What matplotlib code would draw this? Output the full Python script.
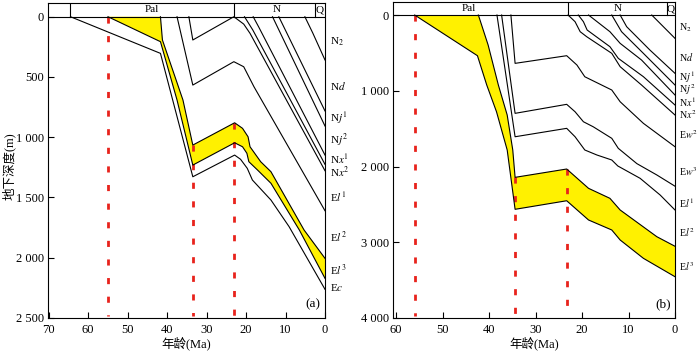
import numpy as np
import matplotlib.pyplot as plt
from matplotlib.transforms import blended_transform_factory

plt.rcParams['font.family'] = ['Liberation Serif', 'Noto Sans CJK SC']
plt.rcParams['mathtext.fontset'] = 'stix'

YELLOW = '#fff100'
RED = '#e8231c'

# ---------------- panel (a): burial curves, age (Ma) / depth (m) ----------------
a_n2_base_age = [5.1, 3.1, 0]
a_n2_base_dep = [0, 135, 359]
a_nd_base_age = [11.7, 0]
a_nd_base_dep = [0, 782]
a_nj1_base_age = [13.3, 0]
a_nj1_base_dep = [0, 907]
a_nj2_base_age = [18.2, 16.8, 0]
a_nj2_base_dep = [0, 85, 1148]
a_nx1_base_age = [20.4, 18.3, 0]
a_nx1_base_dep = [0, 110, 1225]
a_nx2_base_age = [34.5, 33.5, 23.1, 20.6, 19.0, 0]
a_nx2_base_dep = [0, 193, 0, 61, 138, 1278]
a_el1_base_age = [37.5, 33.5, 23.1, 20.6, 19.3, 18.0, 0]
a_el1_base_dep = [0, 567, 373, 415, 498, 581, 1610]
a_el2_base_age = [41.7, 41.2, 36.0, 33.5, 22.9, 20.9, 19.5, 19.0, 16.3, 13.7, 5.3, 0]
a_el2_base_dep = [0, 193, 691, 1065, 880, 926, 996, 1079, 1203, 1286, 1770, 2005]
a_el3_base_age = [55.0, 41.7, 37.5, 33.5, 22.9, 20.9, 19.8, 19.3, 17.1, 13.7, 6.5, 0]
a_el3_base_dep = [0, 207, 691, 1231, 1046, 1079, 1133, 1203, 1272, 1382, 1770, 2171]
a_ec_base_age = [64.5, 41.7, 33.5, 22.9, 21.4, 19.7, 18.4, 13.7, 9.1, 0]
a_ec_base_dep = [0, 304, 1328, 1148, 1183, 1258, 1355, 1521, 1742, 2262]

a_marks = [55.0, 33.5, 23.0]
a_mark_top = [0, 1065, 880]
a_header_cuts = [64.6, 23.0, 2.6]
a_header_names = ['Pal', 'N', 'Q']
a_header_pos = [43.8, 12.2, 1.3]
a_layer_names = [r'N$_2$', r'N$d$', r'N$j^1$', r'N$j^2$', r'N$x^1$', r'N$x^2$',
                 r'E$l^1$', r'E$l^2$', r'E$l^3$', r'E$c$']
a_layer_dep = [210, 575, 840, 1023, 1182, 1292, 1496, 1828, 2102, 2243]

# ---------------- panel (b) ----------------
b_n2_base_age = [5.0, 0]
b_n2_base_dep = [0, 308]
b_nd_base_age = [11.8, 10.4, 5.4, 0]
b_nd_base_dep = [0, 154, 462, 770]
b_nj1_base_age = [13.6, 11.5, 6.8, 0]
b_nj1_base_dep = [0, 220, 506, 924]
b_nj2_base_age = [18.6, 14.0, 11.8, 7.2, 0]
b_nj2_base_dep = [0, 220, 374, 594, 1056]
b_nx1_base_age = [20.8, 19.7, 18.9, 14.0, 12.2, 6.8, 0]
b_nx1_base_dep = [0, 88, 198, 418, 572, 814, 1188]
b_nx2_base_age = [23.0, 21.5, 20.4, 19.0, 13.6, 11.8, 7.2, 0]
b_nx2_base_dep = [0, 88, 220, 286, 506, 682, 924, 1320]
b_ew2_base_age = [35.3, 34.4, 23.3, 21.1, 19.4, 13.6, 11.8, 6.8, 0]
b_ew2_base_dep = [0, 638, 537, 660, 815, 990, 1145, 1430, 1739]
b_ew3_base_age = [37.3, 34.4, 23.3, 21.5, 19.7, 17.6, 13.6, 12.2, 8.2, 3.9, 0]
b_ew3_base_dep = [0, 1298, 1179, 1277, 1409, 1475, 1628, 1760, 1962, 2112, 2260]
b_el1_base_age = [38.3, 34.4, 23.3, 21.5, 19.4, 16.8, 13.6, 12.3, 7.5, 3.2, 0]
b_el1_base_dep = [0, 1607, 1496, 1607, 1782, 1848, 1914, 1993, 2156, 2376, 2574]
b_el2_base_age = [42.3, 40.2, 38.0, 36.1, 34.9, 34.4, 23.3, 18.6, 14.0, 11.8, 3.9, 0]
b_el2_base_dep = [0, 396, 924, 1320, 1782, 2143, 2033, 2288, 2420, 2574, 2927, 3053]
b_el3_base_age = [56.0, 42.5, 40.5, 38.4, 36.1, 34.4, 23.3, 18.6, 13.6, 11.8, 6.8, 0]
b_el3_base_dep = [0, 537, 924, 1277, 1782, 2565, 2452, 2706, 2838, 2970, 3212, 3455]

b_marks = [56.0, 34.4, 23.3]
b_mark_top = [0, 2143, 2033]
b_header_cuts = [23.0, 1.8]
b_header_names = ['Pal', 'N', 'Q']
b_header_pos = [44.3, 12.3, 0.9]
b_layer_names = [r'N$_2$', r'N$d$', r'N$j^1$', r'N$j^2$', r'N$x^1$', r'N$x^2$',
                 r'E$w^2$', r'E$w^3$', r'E$l^1$', r'E$l^2$', r'E$l^3$']
b_layer_dep = [172, 554, 815, 990, 1145, 1310, 1584, 2073, 2482, 2878, 3327]


def draw_panel(ax, lines, yel_top, yel_bot, marks, mark_top, xmax, ymax, ytop,
               cuts, names, name_pos, layer_names, layer_dep, tag, ticks_y, lab_dx, lab_fs):
    # yellow layer
    ax.fill(np.r_[yel_bot[0], yel_top[0][::-1]], np.r_[yel_bot[1], yel_top[1][::-1]],
            color=YELLOW, lw=0, zorder=1)
    for age, dep in lines:
        ax.plot(age, dep, color='k', lw=0.8, zorder=3)

    # red dotted time marks
    for m, top in zip(marks, mark_top):
        ax.plot([m, m], [top, ymax * 0.995], color=RED, lw=2.0, dashes=(2.2, 4.5), zorder=2)

    # header strip
    ax.axhline(0, color='k', lw=0.8, zorder=4)
    for c in cuts:
        ax.plot([c, c], [ytop, 0], color='k', lw=0.8, zorder=4)
    for n, p in zip(names, name_pos):
        ax.text(p, ytop / 2, n, ha='center', va='center', fontsize=8)

    trans = blended_transform_factory(ax.transAxes, ax.transData)
    for n, d in zip(layer_names, layer_dep):
        ax.text(1 + lab_dx, d, n, transform=trans, ha='left', va='center', fontsize=lab_fs)
    ax.text(0.985, 0.025, tag, transform=ax.transAxes, ha='right', va='bottom', fontsize=9.5)

    ax.set_xlim(xmax, 0)
    ax.set_ylim(ymax, ytop)
    ax.set_yticks(ticks_y)
    ax.set_yticklabels([f'{t:,}'.replace(',', ' ') for t in ticks_y])
    ax.tick_params(direction='in', length=4, width=0.8, labelsize=9, pad=3)
    ax.tick_params(axis='x', pad=4)
    for s in ax.spines.values():
        s.set_linewidth(0.8)
    ax.set_xlabel('年龄(Ma)', fontsize=9, labelpad=1)


fig = plt.figure(figsize=(7.0, 3.54), dpi=100)
ax1 = fig.add_axes([48 / 700, 36 / 354, 277 / 700, 315 / 354])
ax2 = fig.add_axes([393.3 / 700, 36 / 354, 281.7 / 700, 316 / 354])

a_lines = [(a_n2_base_age, a_n2_base_dep), (a_nd_base_age, a_nd_base_dep),
           (a_nj1_base_age, a_nj1_base_dep), (a_nj2_base_age, a_nj2_base_dep),
           (a_nx1_base_age, a_nx1_base_dep), (a_nx2_base_age, a_nx2_base_dep),
           (a_el1_base_age, a_el1_base_dep), (a_el2_base_age, a_el2_base_dep),
           (a_el3_base_age, a_el3_base_dep), (a_ec_base_age, a_ec_base_dep)]
draw_panel(ax1, a_lines, (a_el2_base_age, a_el2_base_dep), (a_el3_base_age, a_el3_base_dep),
           a_marks, a_mark_top, 70.2, 2500, -114, a_header_cuts, a_header_names, a_header_pos,
           a_layer_names, a_layer_dep, '(a)', [0, 500, 1000, 1500, 2000, 2500], 0.018, 8)
ax1.set_xticks([70, 60, 50, 40, 30, 20, 10, 0])

b_lines = [(b_n2_base_age, b_n2_base_dep), (b_nd_base_age, b_nd_base_dep),
           (b_nj1_base_age, b_nj1_base_dep), (b_nj2_base_age, b_nj2_base_dep),
           (b_nx1_base_age, b_nx1_base_dep), (b_nx2_base_age, b_nx2_base_dep),
           (b_ew2_base_age, b_ew2_base_dep), (b_ew3_base_age, b_ew3_base_dep),
           (b_el1_base_age, b_el1_base_dep), (b_el2_base_age, b_el2_base_dep),
           (b_el3_base_age, b_el3_base_dep)]
draw_panel(ax2, b_lines, (b_el2_base_age, b_el2_base_dep), (b_el3_base_age, b_el3_base_dep),
           b_marks, b_mark_top, 60.6, 4000, -172, b_header_cuts, b_header_names, b_header_pos,
           b_layer_names, b_layer_dep, '(b)', [0, 1000, 2000, 3000, 4000], 0.014, 7.2)
ax2.set_xticks([60, 50, 40, 30, 20, 10, 0])

fig.text(0.013, 0.53, '地下深度(m)', rotation=90, ha='center', va='center', fontsize=9)

plt.savefig('out.png', dpi=100)
